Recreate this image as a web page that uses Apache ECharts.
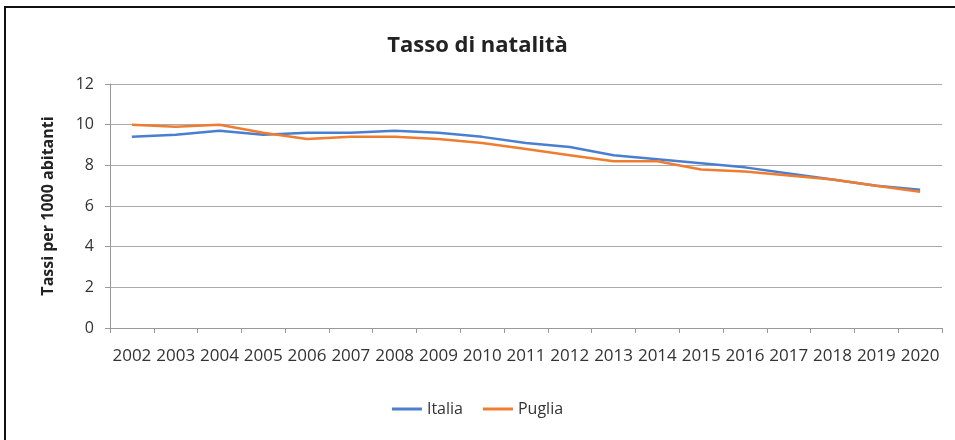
<!DOCTYPE html>
<html>
<head>
<meta charset="utf-8">
<script src="https://cdn.jsdelivr.net/npm/echarts@6/dist/echarts.min.js"></script>
<style>
html,body{margin:0;padding:0;background:#fff;}
#c{width:955px;height:440px;}
</style>
</head>
<body>
<div id="c"></div>
<script>
const years = ['2002','2003','2004','2005','2006','2007','2008','2009','2010','2011','2012','2013','2014','2015','2016','2017','2018','2019','2020'];
const italia = [9.4,9.5,9.7,9.5,9.6,9.6,9.7,9.6,9.4,9.1,8.9,8.5,8.3,8.1,7.9,7.6,7.3,7.0,6.8];
const puglia = [10.0,9.9,10.0,9.6,9.3,9.4,9.4,9.3,9.1,8.8,8.5,8.2,8.2,7.8,7.7,7.5,7.3,7.0,6.7];
const yTicks = [0,2,4,6,8,10,12];

const font = "'Liberation Sans Narrow', 'Open Sans', sans-serif";
const chart = echarts.init(document.getElementById('c'));
chart.setOption({
  backgroundColor: '#fff',
  animation: false,
  title: {
    text: 'Tasso di natalità',
    left: 'center',
    top: 30,
    textStyle: {fontFamily: font, fontSize: 22, fontWeight: 'bold', color: '#222'}
  },
  graphic: [{
    type: 'rect',
    shape: {x: 5, y: 7, width: 1000, height: 500},
    style: {fill: 'none', stroke: '#111', lineWidth: 2},
    silent: true, z: 100
  }],
  legend: {
    bottom: 18,
    left: 'center',
    itemWidth: 30,
    itemHeight: 3,
    itemGap: 20,
    icon: 'rect',
    textStyle: {fontFamily: font, fontSize: 16, color: '#333'},
    data: ['Italia', 'Puglia']
  },
  grid: {left: 110, right: 13, top: 84, bottom: 112},
  xAxis: {
    type: 'category',
    data: years,
    boundaryGap: true,
    axisLine: {lineStyle: {color: '#999'}},
    axisTick: {show: true, alignWithLabel: false, length: 5, lineStyle: {color: '#999'}},
    axisLabel: {fontFamily: font, fontSize: 17, color: '#333', margin: 20, interval: 0}
  },
  yAxis: {
    type: 'value',
    min: 0, max: 12, interval: 2,
    name: 'Tassi per 1000 abitanti',
    nameLocation: 'middle',
    nameGap: 54,
    nameTextStyle: {fontFamily: font, fontSize: 16, fontWeight: 'bold', color: '#222'},
    axisLine: {show: true, lineStyle: {color: '#999'}},
    axisTick: {show: true, length: 5, lineStyle: {color: '#999'}},
    axisLabel: {fontFamily: font, fontSize: 16, color: '#333', margin: 16,
      formatter: v => yTicks.includes(v) ? String(v) : ''},
    splitLine: {lineStyle: {color: '#aaa'}}
  },
  series: [
    {name: 'Italia', type: 'line', data: italia, showSymbol: false, symbol: 'none',
     lineStyle: {width: 2.5, color: '#4a7fd0'}, itemStyle: {color: '#4a7fd0'}},
    {name: 'Puglia', type: 'line', data: puglia, showSymbol: false, symbol: 'none',
     lineStyle: {width: 2.5, color: '#ee7d31'}, itemStyle: {color: '#ee7d31'}}
  ]
});
</script>
</body>
</html>
